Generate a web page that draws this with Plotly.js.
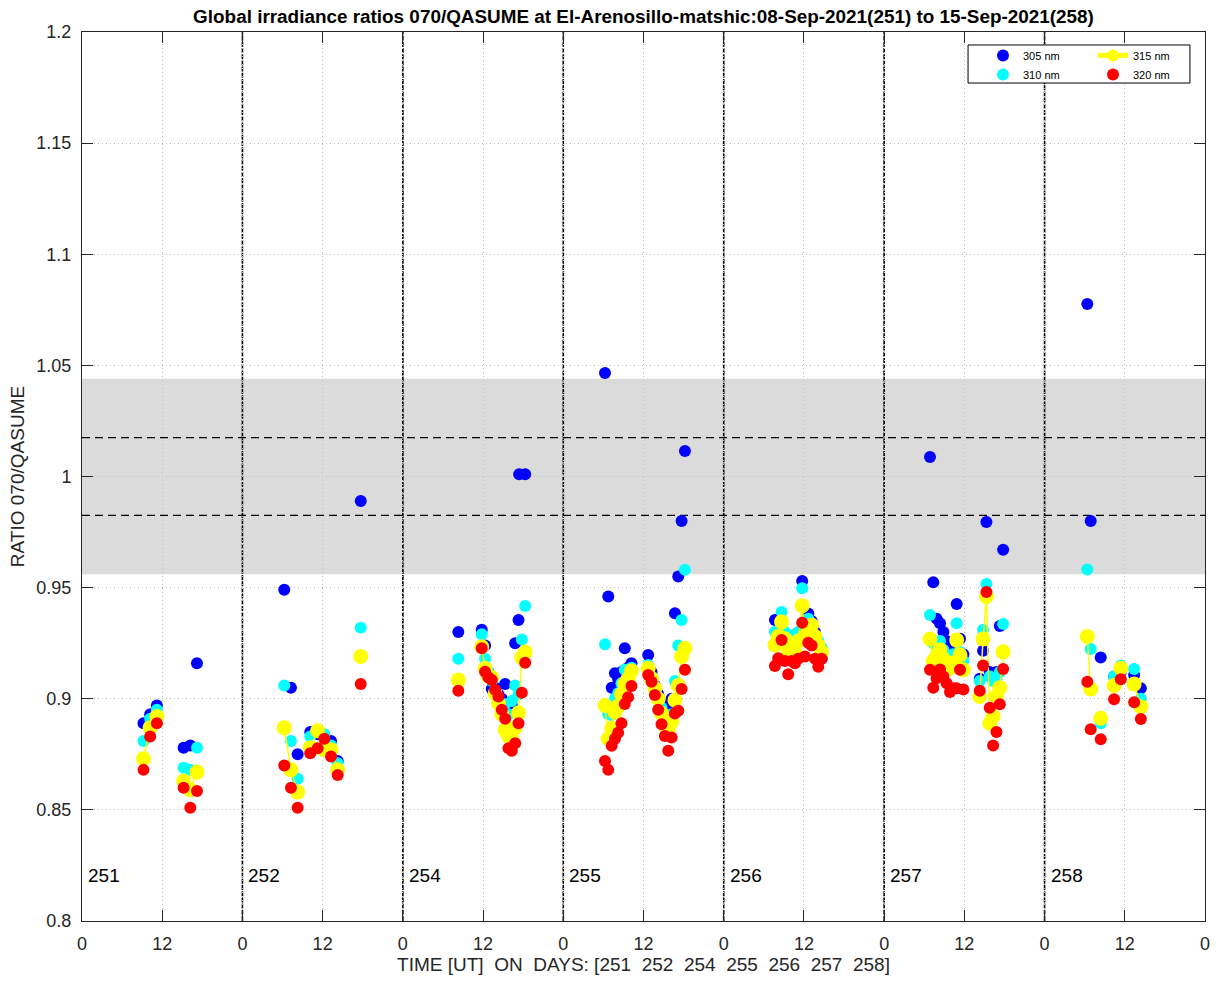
<!DOCTYPE html>
<html>
<head>
<meta charset="utf-8">
<script src="https://cdn.plot.ly/plotly-3.0.1.min.js"></script>
<style>html,body{margin:0;padding:0;background:#fff;}#chart{width:1218px;height:982px;}</style>
</head>
<body>
<div id="chart"></div>
<script>
// ---- data ----
const dayLabels = ['251', '252', '254', '255', '256', '257', '258'];
const xTickVals = [0, 12, 24, 36, 48, 60, 72, 84, 96, 108, 120, 132, 144, 156, 168];
const xTickText = ['0', '12', '0', '12', '0', '12', '0', '12', '0', '12', '0', '12', '0', '12', '0'];
const yTickVals = [0.8, 0.85, 0.9, 0.95, 1.0, 1.05, 1.1, 1.15, 1.2];
const yTickText = ['0.8', '0.85', '0.9', '0.95', '1', '1.05', '1.1', '1.15', '1.2'];

// hours (UT) of each measurement, per day
const dayHours = [
  [9.2, 10.2, 11.2, 15.2, 16.2, 17.2],
  [6.26, 7.26, 8.26, 10.15, 11.25, 12.25, 13.25, 14.25, 17.7],
  [8.3, 11.8, 12.3, 12.8, 13.3, 13.8, 14.3, 14.8, 15.3, 15.8, 16.3, 16.8, 17.3, 17.4, 17.8, 18.3],
  [6.24, 6.73, 7.24, 7.73, 8.2, 8.7, 9.2, 9.7, 10.2, 12.7, 13.2, 13.7, 14.2, 14.7, 15.2, 15.7, 16.2, 16.7, 17.2, 17.7, 18.2],
  [7.66, 8.15, 8.65, 9.15, 9.65, 10.15, 10.65, 11.15, 11.74, 12.15, 12.65, 13.15, 13.65, 14.15, 14.65],
  [6.86, 7.35, 7.85, 8.36, 8.86, 9.35, 9.85, 10.35, 10.85, 11.35, 11.85, 14.3, 14.8, 15.3, 15.8, 16.3, 16.8, 17.3, 17.8],
  [6.39, 6.9, 8.4, 10.4, 11.4, 13.4, 14.4]
];

const ratio305 = [
  [0.889, 0.893, 0.897, 0.878, 0.879, 0.916],
  [0.949, 0.905, 0.875, 0.885, 0.884, 0.883, 0.881, 0.872, 0.989],
  [0.930, 0.931, 0.924, 0.912, 0.9044, 0.905, 0.902, 0.900, 0.9066, 0.898, 0.897, 0.925, 0.9354, 1.001, null, 1.001],
  [1.0466, 0.946, 0.905, 0.9115, 0.909, 0.912, 0.9227, 0.914, 0.916, 0.9197, 0.912, 0.906, 0.902, 0.898, 0.895, 0.897, 0.900, 0.9385, 0.955, 0.980, 1.0115],
  [0.9354, 0.930, 0.932, 0.928, 0.925, 0.924, 0.926, 0.927, 0.953, 0.930, 0.9384, 0.935, 0.930, 0.925, 0.918],
  [1.0088, 0.9524, 0.936, 0.934, 0.930, 0.926, 0.923, 0.925, 0.9426, 0.927, 0.920, 0.909, 0.9216, 0.9795, 0.912, 0.910, 0.912, 0.9327, 0.967],
  [1.0776, 0.980, 0.9186, 0.910, 0.912, 0.9107, 0.9047]
];

const ratio310 = [
  [0.881, 0.891, 0.895, 0.869, 0.868, 0.878],
  [0.906, 0.881, 0.864, 0.883, 0.885, 0.884, 0.879, 0.871, 0.932],
  [0.918, 0.929, 0.918, 0.912, 0.908, 0.903, 0.899, 0.895, 0.8975, 0.893, 0.899, 0.906, 0.902, null, 0.9267, 0.9417],
  [0.9245, 0.893, 0.8927, 0.900, 0.9025, 0.907, 0.913, 0.912, 0.914, 0.9152, 0.910, 0.905, 0.900, 0.896, 0.892, 0.890, 0.893, 0.908, 0.924, 0.9354, 0.958],
  [0.930, 0.928, 0.939, 0.930, 0.926, 0.928, 0.929, 0.930, 0.9497, 0.935, 0.936, 0.932, 0.928, 0.926, 0.923],
  [0.9377, 0.925, 0.921, 0.926, 0.922, 0.918, 0.917, 0.920, 0.934, 0.921, 0.917, 0.908, 0.931, 0.9516, 0.910, 0.908, 0.909, 0.912, 0.9336],
  [0.9582, 0.9224, 0.889, 0.910, 0.915, 0.9134, 0.900]
];

const ratio315 = [
  [0.873, 0.887, 0.892, 0.863, 0.859, 0.867],
  [0.887, 0.868, 0.858, 0.878, 0.8856, 0.877, 0.877, 0.868, 0.919],
  [0.9084, 0.9234, 0.9137, 0.910, 0.9096, 0.9024, 0.898, 0.893, 0.886, 0.883, 0.882, 0.887, 0.8937, null, 0.9185, 0.921],
  [0.897, 0.882, 0.8867, 0.894, 0.8967, 0.902, 0.907, 0.909, 0.9126, 0.9137, 0.909, 0.9047, 0.900, 0.8934, 0.888, 0.886, 0.8897, 0.8994, 0.906, 0.919, 0.9227],
  [0.9242, 0.928, 0.9346, 0.927, 0.922, 0.924, 0.921, 0.926, 0.9419, 0.928, 0.930, 0.9332, 0.928, 0.924, 0.921],
  [0.9269, 0.917, 0.919, 0.922, 0.918, 0.913, 0.914, 0.916, 0.9264, 0.9197, 0.913, 0.901, 0.9269, 0.946, 0.889, 0.892, 0.901, 0.905, 0.9211],
  [0.928, 0.9044, 0.8912, 0.906, 0.9137, 0.9066, 0.8964]
];

const ratio320 = [
  [0.868, 0.883, 0.889, 0.860, 0.851, 0.8585],
  [0.870, 0.860, 0.851, 0.8755, 0.8777, 0.882, 0.874, 0.8657, 0.9066],
  [0.9036, 0.9227, 0.9122, 0.9096, 0.9084, 0.904, 0.901, 0.895, 0.891, 0.8777, 0.8766, 0.880, 0.889, null, 0.9027, 0.9162],
  [0.872, 0.868, 0.8789, 0.882, 0.8847, 0.889, 0.8976, 0.9007, 0.9057, 0.9107, 0.9077, 0.9017, 0.895, 0.8885, 0.8832, 0.8766, 0.8826, 0.8934, 0.8946, 0.9044, 0.913],
  [0.9147, 0.9182, 0.9264, 0.917, 0.911, 0.917, 0.916, 0.918, 0.9342, 0.919, 0.9252, 0.924, 0.918, 0.9144, 0.918],
  [0.913, 0.905, 0.9092, 0.9132, 0.910, 0.907, 0.903, 0.9047, 0.9047, 0.913, 0.9042, 0.9036, 0.915, 0.948, 0.896, 0.879, 0.885, 0.8975, 0.9134],
  [0.9077, 0.8863, 0.8818, 0.8998, 0.9088, 0.8984, 0.8909]
];

const bandLimits = [0.956, 1.044];
const dashLimits = [0.9825, 1.0175];

// ---- build traces ----
function flatten(vals, breakGap) {
  const xs = [], ys = [];
  dayHours.forEach((hrs, d) => {
    let lastH = null;
    hrs.forEach((h, i) => {
      const v = vals[d][i];
      if (v === null) return;
      if (breakGap && lastH !== null && h - lastH > breakGap) { xs.push(null); ys.push(null); }
      xs.push(d * 24 + h); ys.push(v); lastH = h;
    });
    if (breakGap) { xs.push(null); ys.push(null); }
  });
  return { x: xs, y: ys };
}

const s305 = flatten(ratio305), s310 = flatten(ratio310), s315 = flatten(ratio315, 1.2), s320 = flatten(ratio320);
const traces = [
  { x: s305.x, y: s305.y, name: '305 nm', mode: 'markers', type: 'scatter', legend: 'legend',
    marker: { color: '#0000ff', size: 12 } },
  { x: s310.x, y: s310.y, name: '310 nm', mode: 'markers', type: 'scatter', legend: 'legend',
    marker: { color: '#00ffff', size: 12 } },
  { x: s315.x, y: s315.y, name: '315 nm', mode: 'lines+markers', type: 'scatter', legend: 'legend2', connectgaps: false,
    line: { color: '#ffff00', width: 1.5 }, marker: { color: '#ffff00', size: 15 } },
  { x: s320.x, y: s320.y, name: '320 nm', mode: 'markers', type: 'scatter', legend: 'legend2',
    marker: { color: '#ff0000', size: 12 } }
];

const shapes = [
  { type: 'rect', xref: 'paper', yref: 'y', x0: 0, x1: 1, y0: bandLimits[0], y1: bandLimits[1],
    fillcolor: '#dbdbdb', line: { width: 0 }, layer: 'between' }
];
dashLimits.forEach(v => shapes.push({ type: 'line', xref: 'paper', yref: 'y', x0: 0, x1: 1, y0: v, y1: v,
  line: { color: '#000', width: 1.3, dash: '8px,5px' }, layer: 'between' }));
dayLabels.forEach((lab, d) => {
  if (d > 0) shapes.push({ type: 'line', xref: 'x', yref: 'paper', x0: d * 24, x1: d * 24, y0: 0, y1: 1,
    line: { color: '#000', width: 1.6, dash: '5px,1.2px' }, layer: 'between' });
});
// legend frame
shapes.push({ type: 'rect', xref: 'paper', yref: 'paper', x0: 0.789, x1: 0.9866, y0: 0.9426, y1: 0.9854,
  fillcolor: '#fff', line: { color: '#000', width: 1 }, layer: 'above' });

const annotations = dayLabels.map((lab, d) => ({
  x: d * 24 + 0.6, y: 0.8205, xref: 'x', yref: 'y', text: lab, showarrow: false,
  xanchor: 'left', yanchor: 'middle', font: { size: 19, color: '#000' }
}));

const axisCommon = {
  showline: true, mirror: 'ticks', linecolor: '#262626', linewidth: 1,
  ticks: 'inside', ticklen: 11, tickwidth: 1, tickcolor: '#262626',
  showgrid: true, gridcolor: '#c0c0c0', griddash: '1px,3px', gridwidth: 1,
  zeroline: false, tickfont: { size: 18, color: '#262626' }, ticklabelstandoff: 6
};

const legendCommon = {
  orientation: 'v', xanchor: 'left', yanchor: 'top', yref: 'paper', xref: 'paper',
  bgcolor: 'rgba(0,0,0,0)', borderwidth: 0,
  font: { size: 11, color: '#000' }, itemsizing: 'constant', itemwidth: 30, tracegroupgap: 0
};

const layout = {
  width: 1218, height: 982,
  margin: { l: 82, r: 13, t: 32, b: 61 },
  paper_bgcolor: '#fff', plot_bgcolor: '#fff',
  font: { family: '"Liberation Sans", Arial, sans-serif', color: '#000' },
  title: { text: '<b>Global irradiance ratios 070/QASUME at El-Arenosillo-matshic:08-Sep-2021(251) to 15-Sep-2021(258)</b>',
    x: 0.5, xref: 'paper', xanchor: 'center', y: 0.983, yanchor: 'middle', yref: 'container',
    font: { size: 18.9, color: '#000' } },
  xaxis: Object.assign({}, axisCommon, {
    range: [0, 168], tickmode: 'array', tickvals: xTickVals, ticktext: xTickText,
    title: { text: 'TIME [UT]  ON  DAYS: [251  252  254  255  256  257  258]', font: { size: 19, color: '#262626' }, standoff: 4 }
  }),
  yaxis: Object.assign({}, axisCommon, {
    range: [0.8, 1.2], tickmode: 'array', tickvals: yTickVals, ticktext: yTickText,
    title: { text: 'RATIO 070/QASUME', font: { size: 19, color: '#262626' }, standoff: 6 }
  }),
  showlegend: true,
  legend: Object.assign({}, legendCommon, { x: (983 - 82) / 1123, y: 0.99 }),
  legend2: Object.assign({}, legendCommon, { x: (1093 - 82) / 1123, y: 0.99 }),
  shapes: shapes,
  annotations: annotations
};

Plotly.newPlot('chart', traces, layout, { displayModeBar: false, staticPlot: true });
</script>
</body>
</html>
